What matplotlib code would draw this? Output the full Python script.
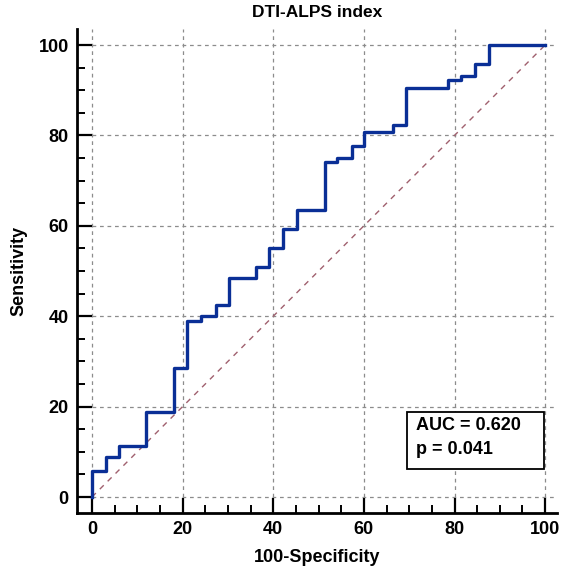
#!/usr/bin/env python3
"""ROC curve for the DTI-ALPS index, MedCalc style."""

import matplotlib.patches as patches
import matplotlib.pyplot as plt
from matplotlib.ticker import MultipleLocator

plt.rcParams["font.family"] = ["Liberation Sans", "DejaVu Sans"]
plt.rcParams["font.weight"] = "bold"

# 100-specificity at each step, and sensitivity reached there
fpr = [0, 0, 3.0, 6.0, 11.9, 18.1, 21.0, 24.1, 27.3, 30.2, 36.1, 39.1, 42.1,
       45.2, 51.4, 54.1, 57.3, 60.0, 66.4, 69.3, 78.5, 81.4, 84.5, 87.5, 100]
tpr = [0, 5.7, 8.9, 11.3, 18.7, 28.5, 39.0, 40.0, 42.5, 48.4, 50.8, 55.2, 59.4,
       63.5, 74.2, 74.9, 77.7, 80.8, 82.4, 90.6, 92.3, 93.2, 95.8, 100, 100]
ticks = [0, 20, 40, 60, 80, 100]
auc_text = "AUC = 0.620"
p_text = "p = 0.041"

fig = plt.figure(figsize=(5.66, 5.73), dpi=100)
ax = fig.add_axes([0.136, 0.105, 0.848, 0.844])
xlim = (-3.3, 102.6)
ylim = (-3.5, 103.5)
ax.set_xlim(*xlim)
ax.set_ylim(*ylim)

grid = dict(colors="#8c8c8c", linestyles=(0, (3, 3)), linewidth=0.9, zorder=1)
ax.hlines(ticks, 0, xlim[1], **grid)
ax.vlines(ticks, 0, ylim[1], **grid)

ax.plot([0, 100], [0, 100], color="#a0606e", linestyle=(0, (4, 4)), linewidth=1.0, zorder=2)
ax.plot(fpr, tpr, drawstyle="steps-post", color="#0a2f96", linewidth=2.4, zorder=3)

for side in ("top", "right"):
    ax.spines[side].set_visible(False)
for side in ("left", "bottom"):
    ax.spines[side].set_linewidth(2.0)

ax.set_xticks(ticks)
ax.set_yticks(ticks)
ax.xaxis.set_minor_locator(MultipleLocator(5))
ax.yaxis.set_minor_locator(MultipleLocator(5))
ax.tick_params(which="major", direction="in", length=11, width=1.6, labelsize=13, pad=6)
ax.tick_params(which="minor", direction="in", length=5.5, width=1.4)

ax.set_xlabel("100-Specificity", fontsize=13, fontweight="bold", labelpad=8)
ax.set_ylabel("Sensitivity", fontsize=13, fontweight="bold", labelpad=8)
ax.set_title("DTI-ALPS index", fontsize=12.5, fontweight="bold", pad=9)

box = patches.Rectangle((0.687, 0.091), 0.286, 0.118, transform=ax.transAxes,
                        facecolor="white", edgecolor="black", linewidth=1.3, zorder=4)
ax.add_patch(box)
ax.text(0.707, 0.180, auc_text, transform=ax.transAxes, fontsize=13,
        fontweight="bold", va="center", ha="left", zorder=5)
ax.text(0.707, 0.130, p_text, transform=ax.transAxes, fontsize=13,
        fontweight="bold", va="center", ha="left", zorder=5)

fig.savefig("out.png", dpi=100)
